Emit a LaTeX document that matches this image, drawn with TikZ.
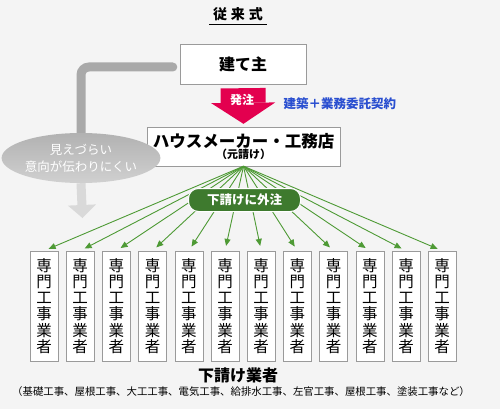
\documentclass[tikz,border=0pt]{standalone}
\usepackage{fontspec}
\setmainfont{Noto Sans CJK JP}
\usetikzlibrary{shapes.geometric,arrows.meta,positioning,calc,backgrounds}

\definecolor{pagebg}{HTML}{F4F4F4}
\definecolor{boxline}{HTML}{9A9A9A}
\definecolor{orderred}{HTML}{E3004F}
\definecolor{contractblue}{HTML}{2A4FD0}
\definecolor{fangreen}{HTML}{4E9A35}
\definecolor{tagGreen}{HTML}{3E7A2E}
\definecolor{hintgray}{HTML}{A9A9A9}
\definecolor{hintfade}{HTML}{D9D9D9}

\begin{document}
\begin{tikzpicture}[
        x=1pt, y=-1pt,
        every node/.style={font=\bfseries},
        headbox/.style={rectangle, draw=boxline, fill=white, inner sep=0pt, align=center},
        tradebox/.style={rectangle, draw=boxline, fill=white, minimum width=28, minimum height=110, inner sep=0pt, align=center, font=\mdseries\fontsize{15.5}{16.2}\selectfont},
        fan/.style={-{Triangle[length=7pt, width=6pt]}, draw=fangreen, line width=0.9pt, shorten >=5pt},
        order/.style={-{Triangle[length=21pt, width=64pt, line width=0pt]}, draw=orderred, line width=45pt, shorten <=4pt, shorten >=3pt},
        hint/.style={draw=hintgray, line width=9pt, rounded corners=8pt, line cap=round},
        hintarrow/.style={-{Triangle[length=13pt, width=28pt, line width=0pt]}, draw=hintfade, line width=9pt},
        note/.style={ellipse, top color=hintgray!90!white, bottom color=hintfade!90!gray, minimum width=126, minimum height=50, inner sep=0pt, align=center, text=white, font=\mdseries\fontsize{12.5}{17}\selectfont},
        tag/.style={rectangle, rounded corners=10pt, draw=white, line width=1pt, fill=tagGreen, text=white, minimum width=112, minimum height=23, inner sep=0pt, font=\bfseries\fontsize{12.5}{14}\selectfont}
        ]

        % Title
        \node[minimum width=57, inner sep=0pt, font=\bfseries\fontsize{14}{16}\selectfont] (title) at (238,14) {従\hspace{4pt}来\hspace{4pt}式};
        \draw[black, line width=0.8pt] ([yshift=-3pt]title.south west) -- ([yshift=-3pt]title.south east);

        % Owner and main contractor
        \node[headbox, minimum width=126, minimum height=40, font=\bfseries\fontsize{16}{18}\selectfont] (owner) at (243,64) {建て主};
        \node[headbox, minimum width=193, minimum height=39] (maker) at (243.5,146.5) {{\fontsize{16.5}{20}\selectfont ハウスメーカー・工務店}\\[-1pt]{\fontsize{11}{13}\selectfont （元請け）}};

        % Order arrow
        \draw[order] (owner.south) -- (maker.north);
        \node[text=white, font=\bfseries\fontsize{12}{14}\selectfont] (ordertext) at (242,100) {発注};
        \node[text=contractblue, font=\bfseries\fontsize{12.5}{14}\selectfont, anchor=west] (contract) at (280,104) {建築＋業務委託契約};

        % Hard to see path on the left
        \coordinate (seen) at (82.5,218);
        \node[note] (opaque) at (81,158) {見えづらい\\意向が伝わりにくい};
        \begin{scope}[on background layer]
            \fill[pagebg] (0,0) rectangle (500,409);
            \draw[hint] ([shift={(-7,3)}]owner.west) -| (opaque.north);
            \draw[hintarrow] (opaque.south) -- (seen);
        \end{scope}

        % Subcontractors
        \foreach \i in {1,...,12}
            \node[tradebox] (w\i) at ({44+(\i-1)*36.2},306) {専\\門\\工\\事\\業\\者};
        \foreach \i in {1,...,12}
            \draw[fan] (maker.south) -- (w\i.north);

        \node[tag] (outsource) at (244.5,200) {下請けに外注};

        % Bottom captions
        \node[font=\bfseries\fontsize{16}{18}\selectfont] (subs) at (238,375) {下請け業者};
        \node[font=\mdseries\fontsize{10.4}{12}\selectfont] (trades) at (241,392) {（基礎工事、屋根工事、大工工事、電気工事、給排水工事、左官工事、屋根工事、塗装工事など）};

    \end{tikzpicture}
\end{document}
